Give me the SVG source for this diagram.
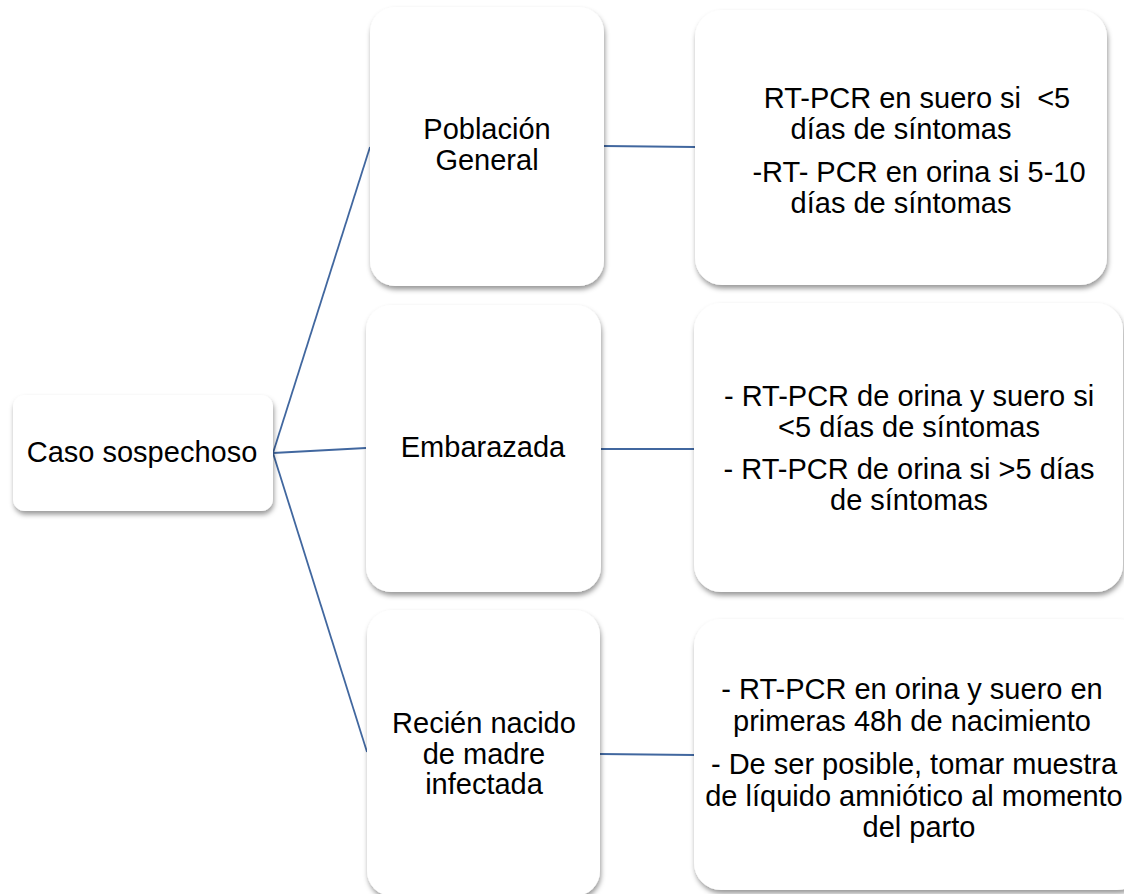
<svg xmlns="http://www.w3.org/2000/svg" width="1124" height="894" viewBox="0 0 1124 894">
<defs>
<filter id="sh" x="-10%" y="-10%" width="120%" height="120%">
<feDropShadow dx="1" dy="3.5" stdDeviation="2.5" flood-color="#000" flood-opacity="0.4"/>
</filter>
<style>
.box{fill:#fff;filter:url(#sh);}
.t{font-family:"Liberation Sans",Arial,sans-serif;font-size:29px;fill:#000;text-anchor:middle;}
.c{stroke:#41679f;stroke-width:1.8;fill:none;}
</style>
</defs>
<rect width="1124" height="894" fill="#fff"/>
<g id="connectors">
<line class="c" x1="273" y1="453" x2="370" y2="147"/>
<line class="c" x1="273" y1="453" x2="366" y2="448"/>
<line class="c" x1="273" y1="453" x2="367" y2="752"/>
<line class="c" x1="604" y1="146" x2="695" y2="147"/>
<line class="c" x1="601" y1="449" x2="694" y2="449"/>
<line class="c" x1="600" y1="754" x2="694" y2="755"/>
</g>
<g id="caso">
<rect class="box" x="13" y="395" width="260" height="116" rx="12"/>
<text class="t" x="142" y="462">Caso sospechoso</text>
</g>
<g id="poblacion">
<rect class="box" x="370" y="7" width="234" height="279" rx="25"/>
<text class="t" x="487" y="139">Población</text>
<text class="t" x="487" y="170">General</text>
</g>
<g id="embarazada">
<rect class="box" x="366" y="305" width="235" height="287" rx="25"/>
<text class="t" x="483" y="457">Embarazada</text>
</g>
<g id="recien">
<rect class="box" x="367" y="610" width="233" height="286" rx="25"/>
<text class="t" x="484" y="733">Recién nacido</text>
<text class="t" x="484" y="764">de madre</text>
<text class="t" x="484" y="794">infectada</text>
</g>
<g id="res1">
<rect class="box" x="695" y="10" width="412" height="275" rx="27"/>
<text class="t" x="917" y="108">RT-PCR en suero si &#160;&lt;5</text>
<text class="t" x="901" y="139">días de síntomas</text>
<text class="t" x="919" y="182">-RT- PCR en orina si 5-10</text>
<text class="t" x="901" y="213">días de síntomas</text>
</g>
<g id="res2">
<rect class="box" x="694" y="303" width="429" height="289" rx="27"/>
<text class="t" x="909" y="406">- RT-PCR de orina y suero si</text>
<text class="t" x="909" y="437">&lt;5 días de síntomas</text>
<text class="t" x="909" y="479">- RT-PCR de orina si &gt;5 días</text>
<text class="t" x="909" y="510">de síntomas</text>
</g>
<g id="res3">
<rect class="box" x="694" y="619" width="450" height="271" rx="27"/>
<text class="t" x="912" y="699">- RT-PCR en orina y suero en</text>
<text class="t" x="912" y="731">primeras 48h de nacimiento</text>
<text class="t" x="914" y="774">- De ser posible, tomar muestra</text>
<text class="t" x="914" y="806">de líquido amniótico al momento</text>
<text class="t" x="919" y="837">del parto</text>
</g>
</svg>
